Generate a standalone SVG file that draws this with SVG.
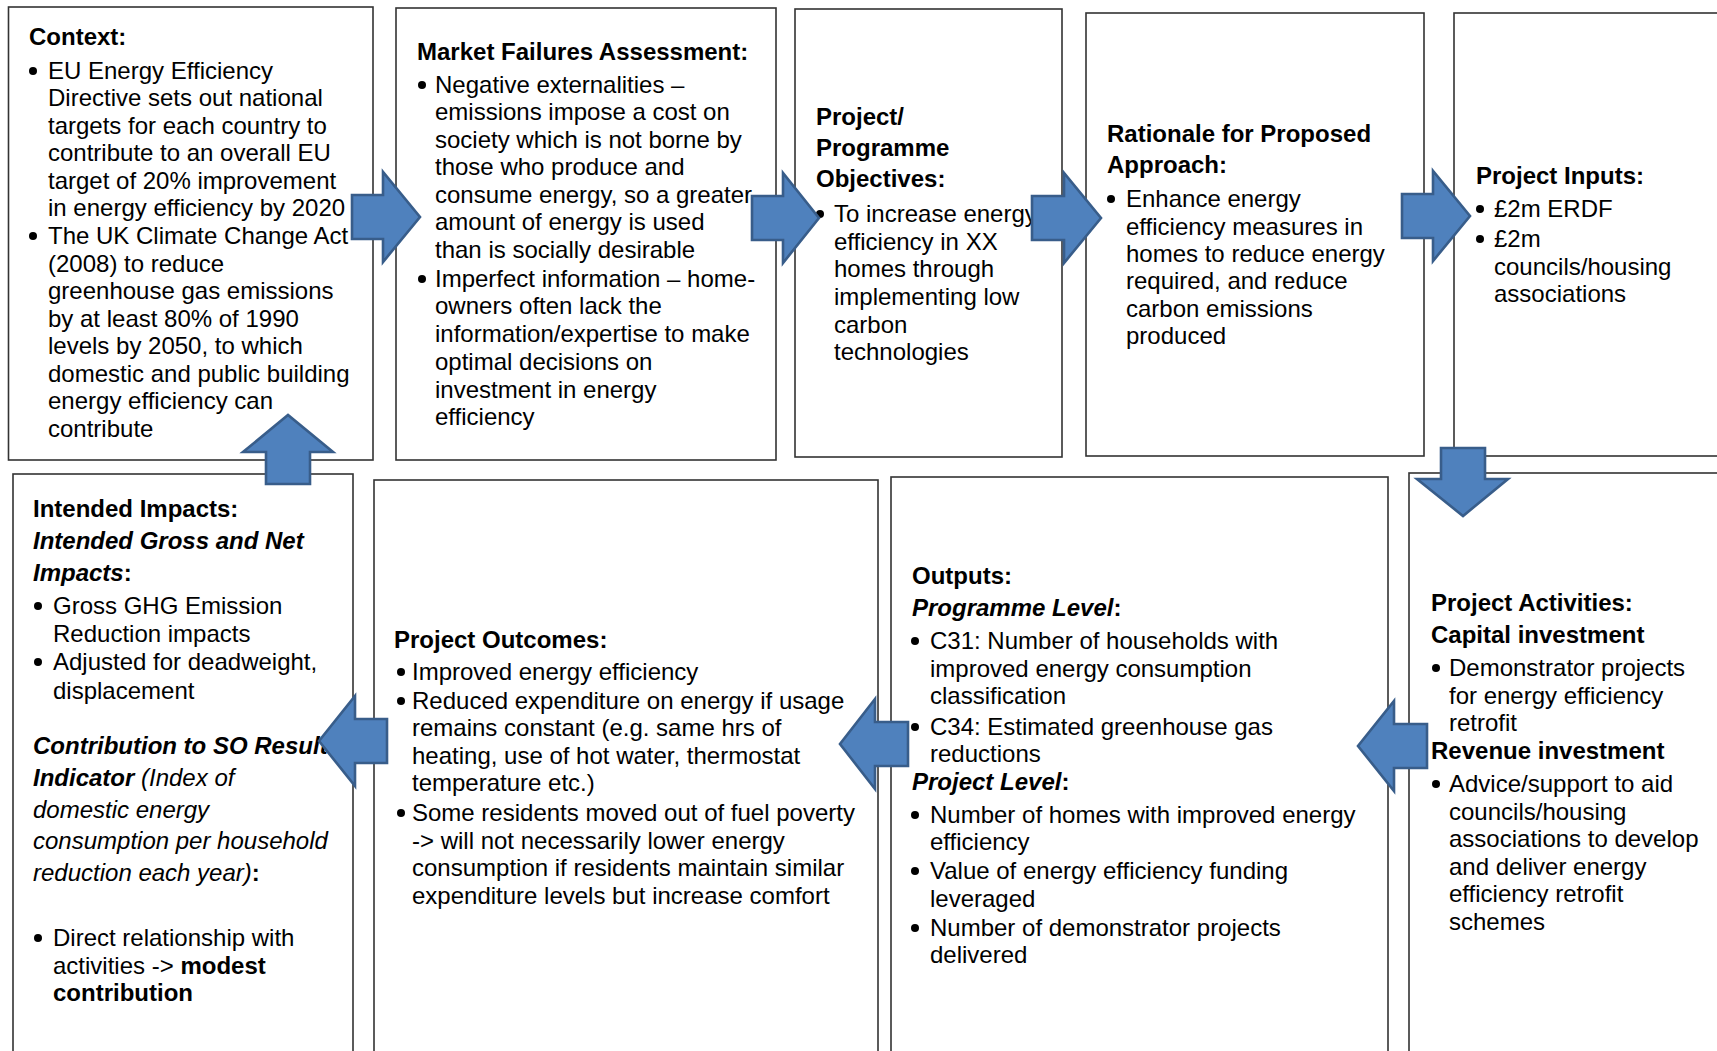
<svg xmlns="http://www.w3.org/2000/svg" width="1717" height="1051" viewBox="0 0 1717 1051">
<style>
.box{fill:#fff;stroke:#333;stroke-width:1.6}
.t{font-family:"Liberation Sans",Arial,sans-serif;font-size:24px;fill:#000}
.b{font-weight:bold}
.i{font-style:italic}
.dot{fill:#000}
.arr{fill:#4F81BD;stroke:#385D8A;stroke-width:2.6;stroke-linejoin:miter}
</style>
<rect width="1717" height="1051" fill="#fff"/>

<g id="context">
<rect class="box" x="8.5" y="7" width="364.5" height="453"/>
<text class="t b" x="29" y="45">Context:</text>
<circle class="dot" cx="33" cy="71" r="4"/>
<circle class="dot" cx="33" cy="236" r="4"/>
<text class="t">
<tspan x="48" y="79">EU Energy Efficiency</tspan>
<tspan x="48" y="106">Directive sets out national</tspan>
<tspan x="48" y="134">targets for each country to</tspan>
<tspan x="48" y="161">contribute to an overall EU</tspan>
<tspan x="48" y="189">target of 20% improvement</tspan>
<tspan x="48" y="216">in energy efficiency by 2020</tspan>
<tspan x="48" y="244">The UK Climate Change Act</tspan>
<tspan x="48" y="272">(2008) to reduce</tspan>
<tspan x="48" y="299">greenhouse gas emissions</tspan>
<tspan x="48" y="327">by at least 80% of 1990</tspan>
<tspan x="48" y="354">levels by 2050, to which</tspan>
<tspan x="48" y="382">domestic and public building</tspan>
<tspan x="48" y="409">energy efficiency can</tspan>
<tspan x="48" y="437">contribute</tspan>
</text>
</g>

<g id="market-failures">
<rect class="box" x="396" y="8" width="380" height="452"/>
<text class="t b" x="417" y="60">Market Failures Assessment:</text>
<circle class="dot" cx="422" cy="85" r="4"/>
<circle class="dot" cx="422" cy="279" r="4"/>
<text class="t">
<tspan x="435" y="93">Negative externalities –</tspan>
<tspan x="435" y="120">emissions impose a cost on</tspan>
<tspan x="435" y="148">society which is not borne by</tspan>
<tspan x="435" y="175">those who produce and</tspan>
<tspan x="435" y="203">consume energy, so a greater</tspan>
<tspan x="435" y="230">amount of energy is used</tspan>
<tspan x="435" y="258">than is socially desirable</tspan>
<tspan x="435" y="287">Imperfect information – home-</tspan>
<tspan x="435" y="314">owners often lack the</tspan>
<tspan x="435" y="342">information/expertise to make</tspan>
<tspan x="435" y="370">optimal decisions on</tspan>
<tspan x="435" y="398">investment in energy</tspan>
<tspan x="435" y="425">efficiency</tspan>
</text>
</g>

<g id="objectives">
<rect class="box" x="795" y="9" width="267" height="448"/>
<text class="t b">
<tspan x="816" y="125">Project/</tspan>
<tspan x="816" y="156">Programme</tspan>
<tspan x="816" y="187">Objectives:</tspan>
</text>
<circle class="dot" cx="820" cy="214" r="4"/>
<text class="t">
<tspan x="834" y="222">To increase energy</tspan>
<tspan x="834" y="250">efficiency in XX</tspan>
<tspan x="834" y="277">homes through</tspan>
<tspan x="834" y="305">implementing low</tspan>
<tspan x="834" y="333">carbon</tspan>
<tspan x="834" y="360">technologies</tspan>
</text>
</g>

<g id="rationale">
<rect class="box" x="1086" y="13" width="338" height="443"/>
<text class="t b">
<tspan x="1107" y="142">Rationale for Proposed</tspan>
<tspan x="1107" y="173">Approach:</tspan>
</text>
<circle class="dot" cx="1111" cy="199" r="4"/>
<text class="t">
<tspan x="1126" y="207">Enhance energy</tspan>
<tspan x="1126" y="235">efficiency measures in</tspan>
<tspan x="1126" y="262">homes to reduce energy</tspan>
<tspan x="1126" y="289">required, and reduce</tspan>
<tspan x="1126" y="317">carbon emissions</tspan>
<tspan x="1126" y="344">produced</tspan>
</text>
</g>

<g id="inputs">
<rect class="box" x="1454" y="13" width="290" height="443"/>
<text class="t b" x="1476" y="184">Project Inputs:</text>
<circle class="dot" cx="1480" cy="209" r="4"/>
<circle class="dot" cx="1480" cy="239" r="4"/>
<text class="t">
<tspan x="1494" y="217">£2m ERDF</tspan>
<tspan x="1494" y="247">£2m</tspan>
<tspan x="1494" y="275">councils/housing</tspan>
<tspan x="1494" y="302">associations</tspan>
</text>
</g>

<g id="activities">
<rect class="box" x="1409" y="473" width="330" height="600"/>
<text class="t b">
<tspan x="1431" y="611">Project Activities:</tspan>
<tspan x="1431" y="643">Capital investment</tspan>
<tspan x="1431" y="759">Revenue investment</tspan>
</text>
<circle class="dot" cx="1436" cy="668" r="4"/>
<circle class="dot" cx="1436" cy="784" r="4"/>
<text class="t">
<tspan x="1449" y="676">Demonstrator projects</tspan>
<tspan x="1449" y="704">for energy efficiency</tspan>
<tspan x="1449" y="731">retrofit</tspan>
<tspan x="1449" y="792">Advice/support to aid</tspan>
<tspan x="1449" y="820">councils/housing</tspan>
<tspan x="1449" y="847">associations to develop</tspan>
<tspan x="1449" y="875">and deliver energy</tspan>
<tspan x="1449" y="902">efficiency retrofit</tspan>
<tspan x="1449" y="930">schemes</tspan>
</text>
</g>

<g id="outputs">
<rect class="box" x="891" y="477" width="497" height="600"/>
<text class="t b" x="912" y="584">Outputs:</text>
<text class="t b" x="912" y="616"><tspan class="i">Programme Level</tspan>:</text>
<text class="t b" x="912" y="790"><tspan class="i">Project Level</tspan>:</text>
<circle class="dot" cx="915" cy="641" r="4"/>
<circle class="dot" cx="915" cy="727" r="4"/>
<circle class="dot" cx="915" cy="815" r="4"/>
<circle class="dot" cx="915" cy="871" r="4"/>
<circle class="dot" cx="915" cy="928" r="4"/>
<text class="t">
<tspan x="930" y="649">C31: Number of households with</tspan>
<tspan x="930" y="677">improved energy consumption</tspan>
<tspan x="930" y="704">classification</tspan>
<tspan x="930" y="735">C34: Estimated greenhouse gas</tspan>
<tspan x="930" y="762">reductions</tspan>
<tspan x="930" y="823">Number of homes with improved energy</tspan>
<tspan x="930" y="850">efficiency</tspan>
<tspan x="930" y="879">Value of energy efficiency funding</tspan>
<tspan x="930" y="907">leveraged</tspan>
<tspan x="930" y="936">Number of demonstrator projects</tspan>
<tspan x="930" y="963">delivered</tspan>
</text>
</g>

<g id="outcomes">
<rect class="box" x="374" y="480" width="504" height="600"/>
<text class="t b" x="394" y="648">Project Outcomes:</text>
<circle class="dot" cx="401" cy="672" r="4"/>
<circle class="dot" cx="401" cy="701" r="4"/>
<circle class="dot" cx="401" cy="813" r="4"/>
<text class="t">
<tspan x="412" y="680">Improved energy efficiency</tspan>
<tspan x="412" y="709">Reduced expenditure on energy if usage</tspan>
<tspan x="412" y="736">remains constant (e.g. same hrs of</tspan>
<tspan x="412" y="764">heating, use of hot water, thermostat</tspan>
<tspan x="412" y="791">temperature etc.)</tspan>
<tspan x="412" y="821">Some residents moved out of fuel poverty</tspan>
<tspan x="412" y="849">-&gt; will not necessarily lower energy</tspan>
<tspan x="412" y="876">consumption if residents maintain similar</tspan>
<tspan x="412" y="904">expenditure levels but increase comfort</tspan>
</text>
</g>

<g id="impacts">
<rect class="box" x="13" y="474" width="340" height="600"/>
<text class="t b" x="33" y="517">Intended Impacts:</text>
<text class="t b i" x="33" y="549">Intended Gross and Net</text>
<text class="t b" x="33" y="581"><tspan class="i">Impacts</tspan>:</text>
<circle class="dot" cx="38" cy="606" r="4"/>
<circle class="dot" cx="38" cy="662" r="4"/>
<text class="t">
<tspan x="53" y="614">Gross GHG Emission</tspan>
<tspan x="53" y="642">Reduction impacts</tspan>
<tspan x="53" y="670">Adjusted for deadweight,</tspan>
<tspan x="53" y="699">displacement</tspan>
</text>
<text class="t b i" x="33" y="754">Contribution to SO Result</text>
<text class="t i" x="33" y="786"><tspan class="b">Indicator</tspan> (Index of</text>
<text class="t i" x="33" y="818">domestic energy</text>
<text class="t i" x="33" y="849">consumption per household</text>
<text class="t i" x="33" y="881">reduction each year)<tspan class="b" font-style="normal">:</tspan></text>
<circle class="dot" cx="38" cy="938" r="4"/>
<text class="t">
<tspan x="53" y="946">Direct relationship with</tspan>
<tspan x="53" y="974">activities -&gt; <tspan class="b">modest</tspan></tspan>
<tspan x="53" y="1001" class="b">contribution</tspan>
</text>
</g>

<g id="connectors">
<path class="arr" d="M352,195 L383,195 L383,172 L420,217 L383,262 L383,239 L352,239 Z"/>
<path class="arr" d="M752,196 L783,196 L783,173 L819,218 L783,263 L783,240 L752,240 Z"/>
<path class="arr" d="M1032,196 L1064,196 L1064,173 L1101,218 L1064,263 L1064,240 L1032,240 Z"/>
<path class="arr" d="M1402,194 L1433,194 L1433,171 L1470,216 L1433,261 L1433,238 L1402,238 Z"/>
<path class="arr" d="M1441,448 L1441,479 L1417,479 L1463,516 L1508,479 L1485,479 L1485,448 Z"/>
<path class="arr" d="M1427,724 L1394,724 L1394,701 L1358,746 L1394,791 L1394,768 L1427,768 Z"/>
<path class="arr" d="M908,722 L875,722 L875,699 L840,744 L875,789 L875,766 L908,766 Z"/>
<path class="arr" d="M387,719 L355,719 L355,696 L319,741 L355,786 L355,763 L387,763 Z"/>
<path class="arr" d="M266,484 L266,452 L243,452 L288,415 L333,452 L310,452 L310,484 Z"/>
</g>
</svg>
